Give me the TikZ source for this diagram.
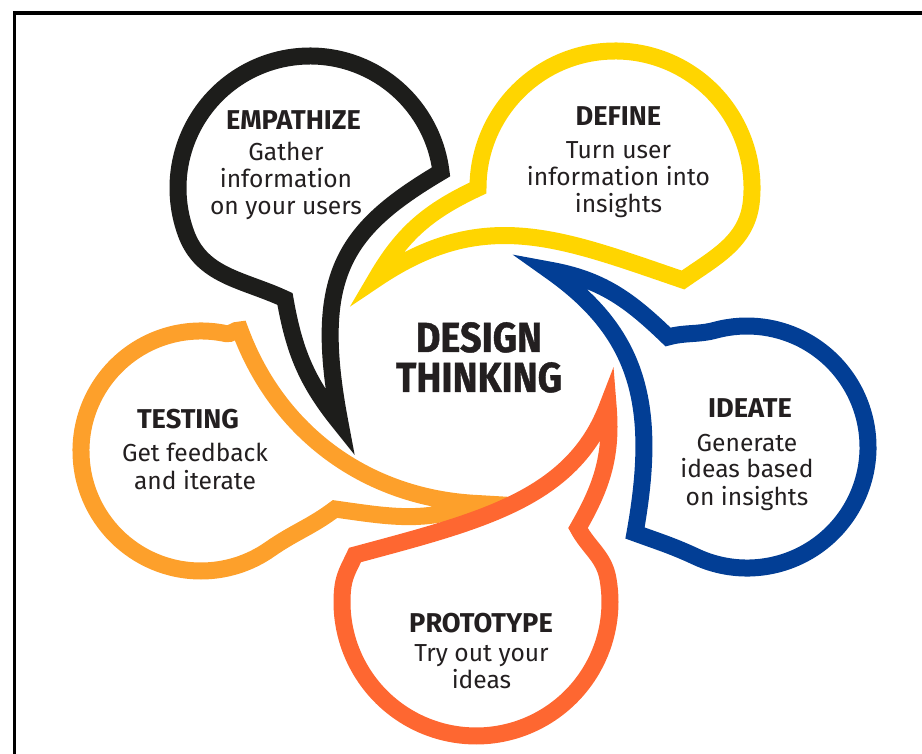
\documentclass[tikz,border=0pt]{standalone}
\usepackage{fontspec}
\setmainfont{Fira Sans}
\newfontfamily\titlefont{Fira Sans}[FakeStretch=0.9, FakeBold=1]

\definecolor{ink}{HTML}{231F20}
\definecolor{ringblack}{HTML}{1D1D1B}
\definecolor{ringyellow}{HTML}{FFD500}
\definecolor{ringblue}{HTML}{023E95}
\definecolor{ringred}{HTML}{FE6731}
\definecolor{ringorange}{HTML}{FDA02B}

\tikzset{
	bubble/.style={line width=8.5pt, line join=miter, miter limit=12, line cap=round},
	rim/.style={line width=1.75pt},
	head/.style={font=\fontsize{13.6}{15}\selectfont\bfseries, text=ink, anchor=base, inner sep=0pt},
	body/.style={font=\fontsize{12.3}{13.5}\selectfont, text=ink, align=center, anchor=base, inner sep=0pt},
	title/.style={font=\titlefont\bfseries\fontsize{21}{20}\selectfont, text=ink, align=center, anchor=base, inner sep=0pt},
}

\begin{document}
\begin{tikzpicture}[x=0.5pt, y=0.5pt]

% canvas %{{{2

	\useasboundingbox (0,0) rectangle (922,-754);
	\draw[rim] (922,-13) -- (14.5,-13) -- (14.5,-754);

% notches and tail vertices %{{{2

	\coordinate (EmpA) at (441,-171.9);
	\coordinate (EmpB) at (285,-299);
	\coordinate (EmpV) at (340,-423);

	\coordinate (DefA) at (683,-280);
	\coordinate (DefV) at (376,-279);

	\coordinate (IdeA) at (635,-533);
	\coordinate (IdeB) at (668,-337);
	\coordinate (IdeV) at (549,-270);

	\coordinate (ProA) at (355,-555);
	\coordinate (ProB) at (578,-528);
	\coordinate (ProV) at (608,-405);

	\coordinate (TesA) at (240,-330);
	\coordinate (TesB) at (335,-509);
	\coordinate (TesV) at (477,-503.5);

% empathize bubble %{{{2

	\draw[bubble, ringblack] (310,-56) arc[start angle=90, end angle=200, radius=132]
		to[out=-70, in=155] (EmpB)
		to[out=-80, in=129] (EmpV)
		.. controls (312,-276) and (343,-230) .. (EmpA)
		arc[start angle=7, end angle=90, radius=132];

% testing bubble %{{{2

	\draw[bubble, ringorange] (81,-451) arc[start angle=180, end angle=305, radius=120]
		to[out=35, in=217] (TesB)
		to[out=-8, in=201] (TesV)
		.. controls (367,-498) and (278,-433) .. (TesA)
		to[out=175, in=-12] (225.9,-333.6)
		arc[start angle=78, end angle=180, radius=120];

% prototype bubble %{{{2

	\draw[bubble, ringred] (476,-736) arc[start angle=270, end angle=370, radius=134]
		to[out=100, in=-62] (ProB)
		to[out=60, in=-85] (ProV)
		.. controls (573,-499) and (481,-521) .. (ProA)
		to[out=245, in=85] (342.5,-590.3)
		arc[start angle=175, end angle=270, radius=134];

% ideate bubble %{{{2

	\draw[bubble, ringblue] (868,-447) arc[start angle=0, end angle=105, radius=121]
		to[out=195, in=15] (IdeB)
		to[out=136, in=-10] (IdeV)
		.. controls (639,-333) and (658,-405) .. (IdeA)
		to[out=-20, in=155] (695.9,-556.7)
		arc[start angle=245, end angle=360, radius=121];

% define bubble %{{{2

	\draw[bubble, ringyellow] (615,-51) arc[start angle=90, end angle=180, radius=137]
		to[out=205, in=60] (DefV)
		.. controls (484,-206) and (560,-238) .. (DefA)
		to[out=35, in=-95] (751.5,-199.9)
		arc[start angle=-5, end angle=90, radius=137];

% labels %{{{2

	\node[head] (empathize) at (293.5,-130) {EMPATHIZE};
	\node[body] (empathizeText) at (286,-215) {Gather\\information\\on your users};

	\node[head] (define) at (618.5,-126) {DEFINE};
	\node[body] (defineText) at (618.5,-212.7) {Turn user\\information into\\insights};

	\node[head] (ideate) at (750,-418) {IDEATE};
	\node[body] (ideateText) at (747,-505) {Generate\\ideas based\\on insights};

	\node[head] (prototype) at (481,-632) {PROTOTYPE};
	\node[body] (prototypeText) at (481.5,-688) {Try out your\\ideas};

	\node[head] (testing) at (188,-429) {TESTING};
	\node[body] (testingText) at (195,-489) {Get feedback\\and iterate};

	\node[title] (designThinking) at (479,-392) {DESIGN\\THINKING};

\end{tikzpicture}
\end{document}
